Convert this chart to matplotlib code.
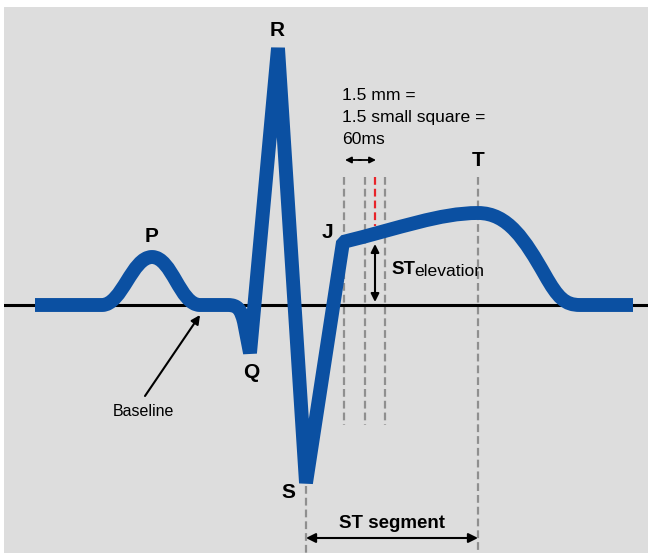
import matplotlib.pyplot as plt
from matplotlib.path import Path
from matplotlib.patches import PathPatch, Rectangle

plt.rcParams['font.family'] = ['Liberation Sans', 'DejaVu Sans']

# ECG trace (pixel coords, y grows downwards)
wave_codes = ['M', 'L', 'C', 'C', 'C', 'C', 'C', 'C', 'L', 'C', 'C', 'C',
              'L', 'L', 'L', 'L', 'C', 'C', 'C', 'C', 'C', 'C', 'C', 'C', 'C', 'L']
wave_x = [35, 102, 122, 132, 152, 172, 180, 200, 228, 238, 241, 244,
          250, 278, 306, 343, 400, 440, 478, 508, 525, 545, 558, 565, 580, 633]
wave_y = [305, 305, 305, 257, 257, 257, 305, 305, 305, 305, 310, 322,
          353, 48, 483, 242, 228, 213, 213, 213, 240, 275, 298, 305, 305, 305]

baseline_y = 305

# wave labels
wave_labels = ['P', 'Q', 'R', 'S', 'J', 'T']
label_x = [152, 251, 277, 288, 327, 478]
label_y = [236, 373, 31, 493, 232, 160]

# dashed markers
grey_dash_x = [344, 365, 385]
grey_dash_top, grey_dash_bottom = 177, 425
red_dash_x = 375
red_dash_bottom = 226
s_x, t_x = 306, 478
s_line_top, t_line_top = 486, 177

note_lines = ['1.5 mm =', '1.5 small square =', '60ms']

code_map = {'M': Path.MOVETO, 'L': Path.LINETO, 'C': Path.CURVE4}

fig = plt.figure(figsize=(6.48, 5.53), dpi=100, facecolor='white')
ax = fig.add_axes([4 / 648, 0, 644 / 648, 546 / 553])
ax.set_xlim(4, 648)
ax.set_ylim(553, 7)
ax.axis('off')
ax.add_patch(Rectangle((4, 7), 644, 546, color='#dddddd', zorder=0))

ax.axhline(baseline_y, color='black', lw=2.2, zorder=2)

# dashed guide lines
for xx in grey_dash_x:
    ax.plot([xx, xx], [grey_dash_top, grey_dash_bottom], color='#8f8f8f',
            lw=1.6, dashes=(3.5, 1.8), zorder=1)
ax.plot([red_dash_x, red_dash_x], [grey_dash_top, red_dash_bottom],
        color='#e8242a', lw=1.6, dashes=(3.5, 1.8), zorder=1)
ax.plot([s_x, s_x], [s_line_top, 553], color='#8f8f8f', lw=1.6,
        dashes=(3.5, 1.8), zorder=1)
ax.plot([t_x, t_x], [t_line_top, 553], color='#8f8f8f', lw=1.6,
        dashes=(3.5, 1.8), zorder=1)

verts = list(zip(wave_x, wave_y))
codes = [code_map[c] for c in wave_codes]
ecg = PathPatch(Path(verts, codes), facecolor='none', edgecolor='#0b50a2',
                lw=10, joinstyle='bevel', capstyle='butt', zorder=3)
ax.add_patch(ecg)

for lab, lx, ly in zip(wave_labels, label_x, label_y):
    ax.text(lx, ly, lab, fontsize=15, fontweight='bold', ha='center',
            va='center', zorder=4)

# 1.5 mm note
for i, line in enumerate(note_lines):
    ax.text(342, 95 + 22.5 * i, line, fontsize=12.6, ha='left', va='center')
arr = dict(arrowstyle='-|>', color='black', lw=1.3, mutation_scale=9,
           shrinkA=0, shrinkB=0)
ax.annotate('', xy=(345, 160), xytext=(361, 160), arrowprops=arr)
ax.annotate('', xy=(376, 160), xytext=(359, 160), arrowprops=arr)

# ST elevation
ax.annotate('', xy=(375, 244), xytext=(375, 302),
            arrowprops=dict(arrowstyle='<|-|>', color='black', lw=1.5,
                            mutation_scale=12, shrinkA=0, shrinkB=0))
ax.text(391, 270, 'ST', fontsize=13.5, fontweight='bold', ha='left', va='center')
ax.text(414, 271, 'elevation', fontsize=12.6, ha='left', va='center')

# baseline pointer
ax.annotate('', xy=(200, 315), xytext=(145, 396),
            arrowprops=dict(arrowstyle='-|>', color='black', lw=1.5,
                            mutation_scale=13, shrinkA=0, shrinkB=0))
ax.text(143, 412, 'Baseline', fontsize=11.5, ha='center', va='center')

# ST segment
ax.annotate('', xy=(306, 538), xytext=(478, 538),
            arrowprops=dict(arrowstyle='<|-|>', color='black', lw=1.5,
                            mutation_scale=14, shrinkA=0, shrinkB=0))
ax.text(392, 523, 'ST segment', fontsize=13.5, fontweight='bold', ha='center',
        va='center')

fig.savefig('out.png', dpi=100, facecolor='white')
